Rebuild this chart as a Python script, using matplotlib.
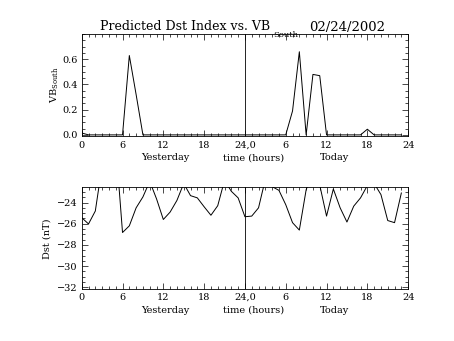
import matplotlib
matplotlib.use('Agg')
import matplotlib.pyplot as plt
from matplotlib.ticker import MultipleLocator

plt.rcParams['font.family'] = 'DejaVu Serif'
plt.rcParams['mathtext.fontset'] = 'dejavuserif'

# hours since start of yesterday (0..47)
hours = list(range(48))

vb_south = [0.015, 0, 0, 0, 0, 0, 0, 0.63, 0.32, 0, 0, 0,
            0, 0, 0, 0, 0, 0, 0, 0, 0, 0, 0, 0,
            0, 0, 0, 0, 0, 0, 0, 0.19, 0.66, 0, 0.48, 0.47,
            0, 0, 0, 0, 0, 0, 0.045, 0, 0, 0, 0, 0]

dst = [-25.43, -26.02, -24.8, -20.5, -20.0, -18.5, -26.83, -26.2, -24.5, -23.47, -22.0, -23.65,
       -25.6, -24.9, -23.8, -22.2, -23.35, -23.56, -24.4, -25.2, -24.3, -21.9, -22.94, -23.56,
       -25.34, -25.28, -24.5, -21.8, -22.5, -22.85, -24.2, -25.9, -26.6, -22.8, -21.0, -22.35,
       -25.28, -22.72, -24.5, -25.84, -24.34, -23.56, -22.4, -22.2, -23.25, -25.7, -25.9, -23.1]

xtick_pos = [0, 6, 12, 18, 24, 30, 36, 42, 48]
xtick_labels = ['0', '6', '12', '18', '24,0', '6', '12', '18', '24']

fig = plt.figure(figsize=(4.54, 3.41), dpi=100)
ax1 = fig.add_axes([0.180, 0.600, 0.719, 0.300])
ax2 = fig.add_axes([0.180, 0.1525, 0.719, 0.298])

def style_axis(ax):
    ax.set_xlim(0, 48)
    ax.xaxis.set_minor_locator(MultipleLocator(1))
    ax.set_xticks(xtick_pos)
    ax.set_xticklabels(xtick_labels)
    ax.tick_params(which='both', direction='in', top=True, right=True,
                   labelsize=7, width=0.5, pad=3)
    ax.tick_params(which='major', length=4)
    ax.tick_params(which='minor', length=2)
    for s in ax.spines.values():
        s.set_linewidth(0.6)
    ax.axvline(24, color='black', lw=0.6)
    tr = ax.get_xaxis_transform()
    ax.text(12.3, -0.235, 'Yesterday', transform=tr, ha='center', va='baseline', fontsize=7)
    ax.text(25.2, -0.235, 'time (hours)', transform=tr, ha='center', va='baseline', fontsize=7)
    ax.text(37.1, -0.235, 'Today', transform=tr, ha='center', va='baseline', fontsize=7)

ax1.plot(hours, vb_south, color='black', lw=0.7)
ax1.set_ylim(-0.012, 0.8)
ax1.set_yticks([0.0, 0.2, 0.4, 0.6])
ax1.set_yticklabels(['0.0', '0.2', '0.4', '0.6'])
ax1.yaxis.set_minor_locator(MultipleLocator(0.05))
style_axis(ax1)

ax2.plot(hours, dst, color='black', lw=0.7)
ax2.set_ylim(-32.16, -22.57)
ax2.set_yticks([-32, -30, -28, -26, -24])
ax2.set_yticklabels(['\u221232', '\u221230', '\u221228', '\u221226', '\u221224'])
ax2.yaxis.set_minor_locator(MultipleLocator(0.5))
style_axis(ax2)

fig.text(55 / 454, 1 - 85 / 341, r'VB$_{\mathrm{South}}$', rotation=90,
         ha='center', va='center', fontsize=7)
fig.text(47.5 / 454, 1 - 239 / 341, 'Dst (nT)', rotation=90,
         ha='center', va='center', fontsize=7)

# title pieces
fig.text(100 / 454, 1 - 30.5 / 341, 'Predicted Dst Index vs. VB',
         ha='left', va='baseline', fontsize=9)
fig.text(273 / 454, 1 - 37 / 341, 'South', ha='left', va='baseline', fontsize=6)
fig.text(385 / 454, 1 - 30.5 / 341, '02/24/2002', ha='right', va='baseline', fontsize=9.5)

fig.savefig('out.png', dpi=100)
